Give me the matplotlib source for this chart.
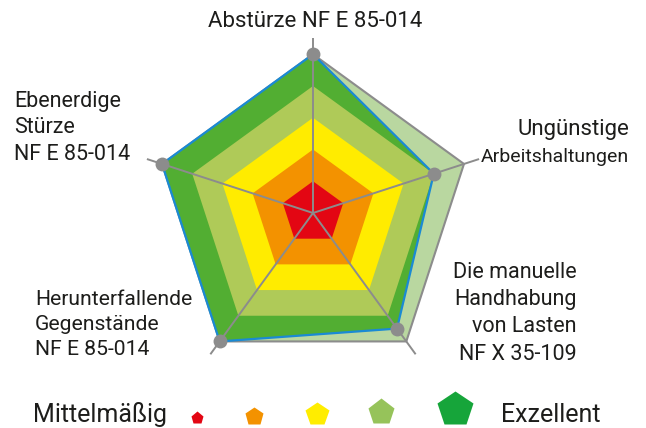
import numpy as np
import matplotlib
matplotlib.use("Agg")
import matplotlib.pyplot as plt

plt.rcParams['font.family'] = ['Roboto', 'DejaVu Sans']

# Risk categories, clockwise from the top
categories = [
    ["Abstürze NF E 85-014"],
    ["Ungünstige", "Arbeitshaltungen"],
    ["Die manuelle", "Handhabung", "von Lasten", "NF X 35-109"],
    ["Herunterfallende", "Gegenstände", "NF E 85-014"],
    ["Ebenerdige", "Stürze", "NF E 85-014"],
]
scores = [5, 4, 4.5, 5, 5]
max_score = 5
band_levels = [1, 2, 3, 4]
legend_low = "Mittelmäßig"
legend_high = "Exzellent"

band_colors = {1: "#e30613", 2: "#f39200", 3: "#ffec00", 4: "#afca58"}
score_fill = "#52ae32"
max_fill = "#b9d7a0"
grey = "#8c8c8c"
blue = "#1a8ad4"
text_color = "#1d1d1b"
legend_colors = ["#e30613", "#f39200", "#ffed00", "#96c35a", "#16a53a"]
legend_marker_pt = [9.5, 13.5, 17.5, 20.0, 26.5]

W, H, DPI = 646, 428, 100
fig = plt.figure(figsize=(W / DPI, H / DPI), dpi=DPI)

# Radar axes: equal scaling, centre of the web at (313, 213) px
cx, cy, unit = 313.0, 213.0, 31.75
ax = fig.add_axes([0, 0, 1, 1])
ax.set_xlim(-cx / unit, (W - cx) / unit)
ax.set_ylim(-(H - cy) / unit, cy / unit)
ax.axis("off")

n = len(categories)
theta = np.deg2rad(90 - 360.0 / n * np.arange(n))


def ring(values):
    v = np.asarray(values, dtype=float)
    return v * np.cos(theta), v * np.sin(theta)


# outer maximum pentagon
x, y = ring([max_score] * n)
ax.fill(x, y, facecolor=max_fill, edgecolor=grey, linewidth=1.5, zorder=1,
        joinstyle="miter")

# achieved scores
x, y = ring(scores)
ax.fill(x, y, facecolor=score_fill, edgecolor="none", zorder=2)

# rating bands
for lvl in sorted(band_levels, reverse=True):
    bx, by = ring([lvl] * n)
    ax.fill(bx, by, facecolor=band_colors[lvl], edgecolor="none", zorder=3)

# spokes
for t in theta:
    ax.plot([0, 5.5 * np.cos(t)], [0, 5.5 * np.sin(t)], color=grey,
            linewidth=1.4, zorder=4, solid_capstyle="butt")

# score outline and points
ax.plot(np.append(x, x[0]), np.append(y, y[0]), color=blue, linewidth=1.6,
        zorder=5, solid_joinstyle="miter")
ax.plot(x, y, linestyle="none", marker="o", markersize=10,
        markerfacecolor=grey, markeredgecolor="none", zorder=6)

# Overlay axes in pixel units for labels and legend
ov = fig.add_axes([0, 0, 1, 1])
ov.set_xlim(0, W)
ov.set_ylim(H, 0)
ov.axis("off")
ov.patch.set_alpha(0)


def label(lines, x, baselines, ha, sizes):
    for line, b, s in zip(lines, baselines, sizes):
        ov.text(x, b, line, ha=ha, va="baseline", fontsize=s, color=text_color)


label(categories[0], 315, [27], "center", [16])
label(categories[1], 629, [134.5, 162.5], "right", [16, 14])
label(categories[2], 577, [277.5, 305, 332.5, 360], "right", [15.5] * 4)
label(categories[3], 35, [305, 330, 355], "left", [15.2] * 3)
label(categories[4], 14, [107, 133, 159.5], "left", [15.5] * 3)

# Legend
ov.text(33, 422, legend_low, ha="left", va="baseline", fontsize=18,
        color=text_color)
ov.text(501, 422, legend_high, ha="left", va="baseline", fontsize=18,
        color=text_color)
leg_x = [197, 254, 317, 381, 455]
bottom = 423.5
px_per_pt = DPI / 72.0
for lx, col, ms in zip(leg_x, legend_colors, legend_marker_pt):
    R = ms / 2 * px_per_pt
    ly = bottom - R * np.cos(np.deg2rad(36))
    ov.plot([lx], [ly], marker="p", markersize=ms, markerfacecolor=col,
            markeredgecolor="none", linestyle="none")

fig.savefig("out.png", dpi=DPI)
